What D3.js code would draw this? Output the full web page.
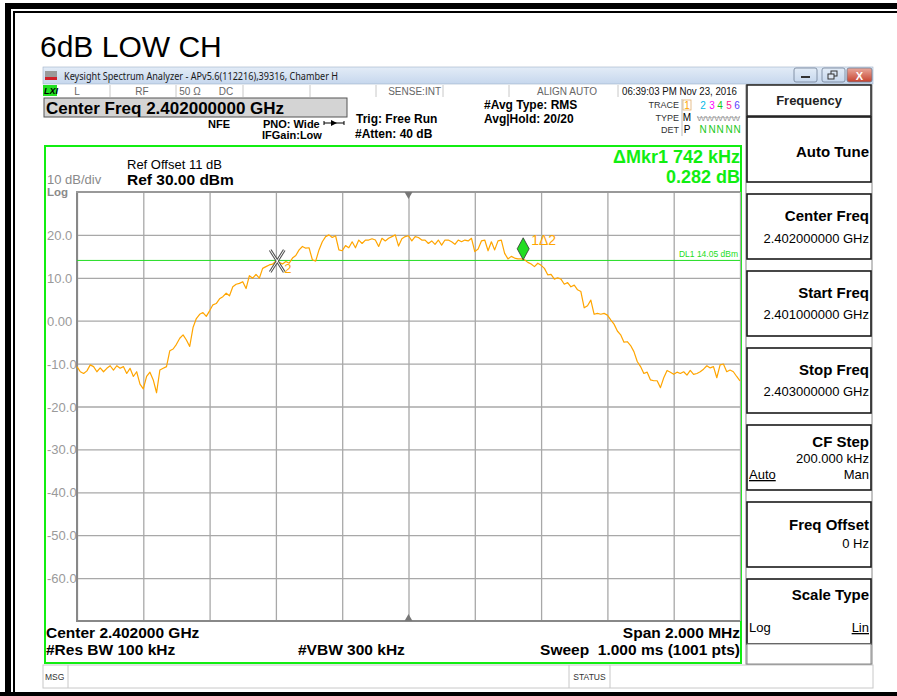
<!DOCTYPE html>
<html>
<head>
<meta charset="utf-8">
<script src="https://cdn.jsdelivr.net/npm/d3@7"></script>
<style>
  body { margin: 0; background: #fff; }
  svg { display: block; font-family: "Liberation Sans", Arial, sans-serif; }
</style>
</head>
<body>
<div id="chart"></div>
<script>
// sweep settings (MHz)
const startFreq = 2401;
const stopFreq = 2403;
const sampleStep = 0.01;   // one sample every 10 kHz

// trace 1 levels in dBm, left to right
const traceLevels = [
  -10.7, -11.9, -12.3, -11.7, -10.3, -10.7, -11.9, -11.0, -11.9, -11.1,
  -10.5, -11.5, -10.5, -11.1, -10.7, -12.3, -11.1, -13.0, -11.9, -14.8,
  -15.9, -13.0, -12.0, -13.8, -16.8, -11.5, -11.1, -10.7, -7.0, -6.6,
  -5.5, -4.1, -3.3, -4.5, -6.0, -1.6, 0.5, 1.5, 1.9, 1.0,
  2.3, 3.7, 4.0, 5.1, 5.6, 6.4, 5.8, 7.9, 8.5, 8.7,
  9.1, 7.5, 10.5, 9.9, 10.8, 9.9, 12.2, 12.6, 13.0, 13.2,
  13.9, 13.6, 13.2, 13.8, 13.4, 14.6, 15.2, 16.5, 17.3, 16.9,
  17.0, 14.2, 13.9, 16.5, 18.4, 19.6, 20.0, 19.4, 19.8, 16.5,
  16.3, 17.5, 17.0, 18.4, 17.0, 18.8, 18.0, 18.8, 18.8, 19.1,
  18.8, 17.3, 19.2, 18.6, 19.2, 19.6, 20.0, 17.4, 19.1, 19.6,
  19.8, 18.6, 19.6, 19.4, 18.8, 18.8, 18.0, 18.6, 17.8, 18.8,
  17.6, 18.8, 18.8, 18.4, 17.8, 18.8, 18.4, 18.8, 18.6, 19.2,
  16.1, 16.7, 18.6, 18.8, 16.3, 18.4, 16.5, 18.6, 18.8, 15.7,
  14.4, 15.0, 14.6, 14.4, 14.4, 14.2, 13.6, 13.2, 12.6, 13.4,
  12.9, 12.2, 10.7, 10.8, 9.7, 10.0, 9.7, 8.5, 8.9, 7.9,
  8.3, 7.2, 6.8, 3.0, 3.5, 4.8, 1.5, 1.7, 1.5, 1.7,
  1.3, 0.2, -0.8, -2.4, -3.3, -5.0, -4.9, -5.8, -7.2, -9.5,
  -10.7, -12.3, -12.0, -13.8, -14.0, -14.0, -15.6, -13.3, -11.6, -12.0,
  -12.5, -12.0, -12.3, -11.9, -12.7, -11.6, -12.5, -12.3, -11.9, -11.3,
  -10.5, -11.0, -10.7, -13.3, -10.3, -10.1, -11.9, -11.5, -11.9, -13.0,
  -14.0
];

const refLevel = 30;
const bottomLevel = -70;
const yTicks = [20, 10, 0, -10, -20, -30, -40, -50, -60];
const yTickLabels = ["20.0", "10.0", "0.00", "-10.0", "-20.0", "-30.0", "-40.0", "-50.0", "-60.0"];
const gridFreqs = [2401, 2401.2, 2401.4, 2401.6, 2401.8, 2402, 2402.2, 2402.4, 2402.6, 2402.8, 2403];
const displayLine = 14.05;

// markers: 2 is the reference, 1 is the delta marker
const markerLabels = ["2", "1\u03942"];
const markerFreqs = [2401.604, 2402.346];
const markerLevels = [13.9, 14.2];

// softkey panel
const softkeyTitles = ["Auto Tune", "Center Freq", "Start Freq", "Stop Freq", "CF Step", "Freq Offset", "Scale Type"];
const softkeyValues = ["", "2.402000000 GHz", "2.401000000 GHz", "2.403000000 GHz", "200.000 kHz", "0 Hz", ""];

const W = 897, H = 696;
const svg = d3.select("#chart").append("svg")
  .attr("width", W)
  .attr("height", H);

// outer document frame
svg.append("rect").attr("x", 5).attr("y", 3).attr("width", W - 5).attr("height", 6).attr("fill", "#000");
svg.append("rect").attr("x", 5).attr("y", 3).attr("width", 6).attr("height", H - 3).attr("fill", "#000");
svg.append("rect").attr("x", 13).attr("y", 11).attr("width", W - 13).attr("height", 2).attr("fill", "#000");
svg.append("rect").attr("x", 13).attr("y", 11).attr("width", 2).attr("height", H - 11).attr("fill", "#000");
svg.append("rect").attr("x", 0).attr("y", 692).attr("width", W).attr("height", 4).attr("fill", "#000");

svg.append("text")
  .attr("x", 40).attr("y", 57)
  .style("font-size", "30px")
  .text("6dB LOW CH");

// window title bar
const defs = svg.append("defs");
const grad = defs.append("linearGradient").attr("id", "bar").attr("x1", 0).attr("y1", 0).attr("x2", 0).attr("y2", 1);
grad.append("stop").attr("offset", "0%").attr("stop-color", "#e3ecf7");
grad.append("stop").attr("offset", "100%").attr("stop-color", "#c6d7ed");
const redGrad = defs.append("linearGradient").attr("id", "red").attr("x1", 0).attr("y1", 0).attr("x2", 0).attr("y2", 1);
redGrad.append("stop").attr("offset", "0%").attr("stop-color", "#e9a99c");
redGrad.append("stop").attr("offset", "100%").attr("stop-color", "#c7432f");

svg.append("rect").attr("x", 43).attr("y", 67).attr("width", 830).attr("height", 17)
  .attr("fill", "url(#bar)").attr("stroke", "#9fb1c8").attr("stroke-width", 0.6);
svg.append("rect").attr("x", 45).attr("y", 71).attr("width", 12).attr("height", 6).attr("fill", "#9a9a9a");
svg.append("rect").attr("x", 45).attr("y", 77).attr("width", 12).attr("height", 3).attr("fill", "#d0202a");
svg.append("text")
  .attr("x", 64).attr("y", 80)
  .attr("textLength", 274).attr("lengthAdjust", "spacingAndGlyphs")
  .style("font-family", "'Noto Sans', 'DejaVu Sans', sans-serif")
  .style("font-size", "11px")
  .attr("fill", "#1a1a1a")
  .text("Keysight Spectrum Analyzer - APv5.6(112216),39316, Chamber H");

// window buttons
[[794, "url(#bar)"], [822, "url(#bar)"], [847, "url(#red)"]].forEach(([bx, f], i) => {
  svg.append("rect").attr("x", bx).attr("y", 68).attr("width", i === 2 ? 25 : 23).attr("height", 14)
    .attr("rx", 2).attr("fill", f).attr("stroke", "#6f7f95").attr("stroke-width", 0.8);
});
svg.append("rect").attr("x", 801).attr("y", 76).attr("width", 9).attr("height", 2).attr("fill", "#333");
svg.append("rect").attr("x", 831).attr("y", 71).attr("width", 6).attr("height", 5).attr("fill", "none").attr("stroke", "#333").attr("stroke-width", 1);
svg.append("rect").attr("x", 828).attr("y", 74).attr("width", 6).attr("height", 5).attr("fill", "#dde6f2").attr("stroke", "#333").attr("stroke-width", 1);
svg.append("text").attr("x", 859.5).attr("y", 79.5).attr("text-anchor", "middle")
  .style("font-size", "11px").style("font-weight", "bold").attr("fill", "#fff").text("X");

// status row
svg.append("rect").attr("x", 43).attr("y", 85).attr("width", 14).attr("height", 11).attr("fill", "#22e022");
svg.append("text").attr("x", 44).attr("y", 94).style("font-size", "9px").style("font-weight", "bold")
  .style("font-style", "italic").text("LXI");
[110, 176, 243, 310, 376, 443, 509, 618].forEach(dx => {
  svg.append("line").attr("x1", dx).attr("x2", dx).attr("y1", 85).attr("y2", 97)
    .attr("stroke", "#c8c8c8");
});
const statusItems = [["L", 77, "middle"], ["RF", 142, "middle"], ["50 \u03A9", 190, "middle"], ["DC", 226, "middle"],
  ["SENSE:INT", 441, "end"], ["ALIGN AUTO", 567, "middle"]];
statusItems.forEach(([t, sx, anchor]) => {
  svg.append("text").attr("x", sx).attr("y", 95).attr("text-anchor", anchor)
    .style("font-size", "10px").attr("fill", "#666").text(t);
});
svg.append("text").attr("x", 622).attr("y", 95).attr("textLength", 115).attr("lengthAdjust", "spacingAndGlyphs")
  .style("font-size", "10px").attr("fill", "#111").text("06:39:03 PM Nov 23, 2016");

// center freq banner
svg.append("rect").attr("x", 44).attr("y", 98).attr("width", 303).attr("height", 19)
  .attr("fill", "#d4d4d4").attr("stroke", "#555").attr("stroke-width", 1);
svg.append("text").attr("x", 46).attr("y", 113.5)
  .style("font-size", "17px").style("font-weight", "bold")
  .text("Center Freq 2.402000000 GHz");

// settings text
const settings = [
  ["NFE", 208, 128, 11], ["PNO: Wide", 263, 128, 11], ["IFGain:Low", 262, 139, 11],
  ["Trig: Free Run", 356, 123, 12], ["#Atten: 40 dB", 355, 138, 12],
  ["#Avg Type: RMS", 484, 109, 12], ["Avg|Hold: 20/20", 484, 123, 12]
];
settings.forEach(([t, sx, sy, fs]) => {
  svg.append("text").attr("x", sx).attr("y", sy)
    .style("font-size", fs + "px").style("font-weight", "bold")
    .text(t);
});
// trigger arrow
svg.append("line").attr("x1", 324).attr("x2", 344).attr("y1", 123).attr("y2", 123).attr("stroke", "#000");
svg.append("path").attr("d", "M331,120 L337,123 L331,126 Z").attr("fill", "#000");
svg.append("line").attr("x1", 324).attr("x2", 324).attr("y1", 121).attr("y2", 125).attr("stroke", "#000");
svg.append("line").attr("x1", 344).attr("x2", 344).attr("y1", 121).attr("y2", 125).attr("stroke", "#000");

// trace table
const traceRows = ["TRACE", "TYPE", "DET"];
traceRows.forEach((t, i) => {
  svg.append("text").attr("x", 679).attr("y", 108 + i * 12.5).attr("text-anchor", "end")
    .style("font-size", "9px").attr("fill", "#333").text(t);
});
svg.append("line").attr("x1", 682).attr("x2", 682).attr("y1", 99).attr("y2", 136).attr("stroke", "#bbb");
const traceNums = ["1", "2", "3", "4", "5", "6"];
const traceColors = ["#ffa500", "#00b8e8", "#ff00ff", "#18c818", "#ff1493", "#5a3cff"];
const traceX = [687, 703, 712, 720, 729, 737];
svg.append("rect").attr("x", 683).attr("y", 100).attr("width", 8).attr("height", 10)
  .attr("fill", "none").attr("stroke", "#e0b070").attr("stroke-width", 0.8);
traceNums.forEach((t, i) => {
  svg.append("text").attr("x", traceX[i]).attr("y", 108.5).attr("text-anchor", "middle")
    .style("font-size", "10px").attr("fill", traceColors[i]).text(t);
  if (i > 0) {
    svg.append("text").attr("x", traceX[i]).attr("y", 133).attr("text-anchor", "middle")
      .style("font-size", "10px").attr("fill", "#18c818").text("N");
  }
});
svg.append("text").attr("x", 687).attr("y", 121).attr("text-anchor", "middle")
  .style("font-size", "10px").text("M");
svg.append("text").attr("x", 697).attr("y", 120.5).attr("textLength", 43).attr("lengthAdjust", "spacingAndGlyphs")
  .style("font-size", "8px").attr("fill", "#999").text("WWWWW");
svg.append("line").attr("x1", 697).attr("x2", 740).attr("y1", 117.5).attr("y2", 117.5).attr("stroke", "#aaa").attr("stroke-width", 0.6);
svg.append("text").attr("x", 687).attr("y", 133).attr("text-anchor", "middle")
  .style("font-size", "10px").text("P");

// plot area scales
const x = d3.scaleLinear().domain([startFreq, stopFreq]).range([77, 740]);
const y = d3.scaleLinear().domain([bottomLevel, refLevel]).range([621, 192]);
const plotW = 740 - 77, plotH = 621 - 192;

// green frame
svg.append("rect").attr("x", 45).attr("y", 146).attr("width", 696).attr("height", 517)
  .attr("fill", "none").attr("stroke", "#11ee11").attr("stroke-width", 2);

// grid from the axes
const xGrid = svg.append("g")
  .attr("transform", `translate(0,${y(bottomLevel)})`)
  .call(d3.axisBottom(x).tickValues(gridFreqs).tickSize(-plotH).tickFormat(""));
xGrid.select(".domain").remove();
xGrid.selectAll("line").attr("stroke", "#a8a8a8").attr("stroke-width", 1.3);

const yAxis = svg.append("g")
  .attr("transform", `translate(${x(startFreq)},0)`)
  .call(d3.axisLeft(y).tickValues(yTicks).tickSize(-plotW).tickFormat((d, i) => yTickLabels[i]));
yAxis.select(".domain").remove();
yAxis.selectAll("line").attr("stroke", "#a8a8a8").attr("stroke-width", 1.3);
yAxis.selectAll("text")
  .attr("x", 47 - 77).attr("dy", "0.35em")
  .attr("text-anchor", "start")
  .attr("fill", "#9a9a9a")
  .style("font-family", "'Liberation Sans', Arial, sans-serif")
  .style("font-size", "13px");

// grid border
svg.append("line").attr("x1", 77).attr("x2", 77).attr("y1", 191).attr("y2", 622).attr("stroke", "#888").attr("stroke-width", 2);
svg.append("line").attr("x1", 76).attr("x2", 740).attr("y1", y(refLevel)).attr("y2", y(refLevel)).attr("stroke", "#999").attr("stroke-width", 2);
svg.append("line").attr("x1", 76).attr("x2", 740).attr("y1", y(bottomLevel)).attr("y2", y(bottomLevel)).attr("stroke", "#888").attr("stroke-width", 2);

// center triangles
const cx = x((startFreq + stopFreq) / 2);
svg.append("path").attr("d", `M${cx - 4},${y(refLevel)} L${cx + 4},${y(refLevel)} L${cx},${y(refLevel) + 7} Z`).attr("fill", "#777");
svg.append("path").attr("d", `M${cx - 4},${y(bottomLevel)} L${cx + 4},${y(bottomLevel)} L${cx},${y(bottomLevel) - 7} Z`).attr("fill", "#777");

// display line
svg.append("line")
  .attr("x1", 77).attr("x2", 740)
  .attr("y1", y(displayLine)).attr("y2", y(displayLine))
  .attr("stroke", "#22dd22").attr("stroke-width", 1);
svg.append("text").attr("x", 738).attr("y", y(displayLine) - 3).attr("text-anchor", "end")
  .style("font-size", "8.5px").attr("fill", "#22dd22")
  .text(`DL1 ${displayLine.toFixed(2)} dBm`);

// trace
const line = d3.line()
  .x((d, i) => x(startFreq + i * sampleStep))
  .y(d => y(d));
svg.append("path")
  .datum(traceLevels)
  .attr("d", line)
  .attr("fill", "none")
  .attr("stroke", "#ffa500")
  .attr("stroke-width", 1.2)
  .attr("stroke-linejoin", "round");

// marker 2 (reference): outlined X
const m2x = x(markerFreqs[0]), m2y = y(markerLevels[0]);
const xPath = `M${m2x - 7},${m2y - 11} L${m2x + 7},${m2y + 11} M${m2x + 7},${m2y - 11} L${m2x - 7},${m2y + 11}`;
svg.append("path").attr("d", xPath).attr("stroke", "#555").attr("stroke-width", 3).attr("fill", "none");
svg.append("path").attr("d", xPath).attr("stroke", "#fff").attr("stroke-width", 1).attr("fill", "none");
svg.append("text").attr("x", m2x + 7).attr("y", m2y + 12)
  .style("font-size", "13px").attr("fill", "#ffa500").text(markerLabels[0]);

// marker 1 (delta): green diamond sitting on the trace
const m1x = x(markerFreqs[1]), m1y = y(markerLevels[1]);
svg.append("path")
  .attr("d", `M${m1x},${m1y} L${m1x - 6},${m1y - 11} L${m1x},${m1y - 22} L${m1x + 6},${m1y - 11} Z`)
  .attr("fill", "#22dd22").attr("stroke", "#333").attr("stroke-width", 0.8);
svg.append("text").attr("x", m1x + 8).attr("y", m1y - 15)
  .style("font-size", "14px").attr("fill", "#ffa500").text(markerLabels[1]);

// marker readout
const deltaKHz = Math.round((markerFreqs[1] - markerFreqs[0]) * 1000);
svg.append("text").attr("x", 740).attr("y", 162.5).attr("text-anchor", "end")
  .style("font-size", "18px").style("font-weight", "bold").attr("fill", "#11ee11")
  .text(`\u0394Mkr1 ${deltaKHz} kHz`);
svg.append("text").attr("x", 740).attr("y", 183).attr("text-anchor", "end")
  .style("font-size", "18px").style("font-weight", "bold").attr("fill", "#11ee11")
  .text("0.282 dB");

// reference text
svg.append("text").attr("x", 127).attr("y", 169).style("font-size", "13px").text("Ref Offset 11 dB");
svg.append("text").attr("x", 127).attr("y", 185).style("font-size", "15.5px").style("font-weight", "bold")
  .text(`Ref ${refLevel.toFixed(2)} dBm`);
svg.append("text").attr("x", 47).attr("y", 183.5).style("font-size", "13px").attr("fill", "#8a8a8a").text("10 dB/div");
svg.append("text").attr("x", 47).attr("y", 196).style("font-size", "11.5px").style("font-weight", "bold")
  .attr("fill", "#8a8a8a").text("Log");

// bottom annotations
const bottomText = [
  ["Center 2.402000 GHz", 46, 638, "start"], ["#Res BW 100 kHz", 46, 655, "start"],
  ["#VBW 300 kHz", 298, 655, "start"], ["Span 2.000 MHz", 740, 638, "end"],
  ["Sweep  1.000 ms (1001 pts)", 740, 655, "end"]
];
bottomText.forEach(([t, bx, by, anchor]) => {
  svg.append("text").attr("x", bx).attr("y", by).attr("text-anchor", anchor)
    .style("font-size", "15.5px").style("font-weight", "bold").style("white-space", "pre")
    .text(t);
});

// message bar
svg.append("rect").attr("x", 43).attr("y", 665).attr("width", 830).attr("height", 23)
  .attr("fill", "#fff").attr("stroke", "#c8c8c8").attr("stroke-width", 1);
[68, 569, 610].forEach(dx => {
  svg.append("line").attr("x1", dx).attr("x2", dx).attr("y1", 665).attr("y2", 688).attr("stroke", "#c8c8c8");
});
svg.append("text").attr("x", 45).attr("y", 680).style("font-size", "8.5px").attr("fill", "#333").text("MSG");
svg.append("text").attr("x", 589.5).attr("y", 680).attr("text-anchor", "middle").style("font-size", "8.5px")
  .attr("fill", "#333").text("STATUS");

// softkey panel
svg.append("rect").attr("x", 746).attr("y", 85).attr("width", 126).attr("height", 579)
  .attr("fill", "#fff").attr("stroke", "#888").attr("stroke-width", 1);
svg.append("rect").attr("x", 747).attr("y", 85).attr("width", 124).attr("height", 31)
  .attr("fill", "#fff").attr("stroke", "#222").attr("stroke-width", 1.5);
svg.append("text").attr("x", 809).attr("y", 105).attr("text-anchor", "middle")
  .style("font-size", "13px").style("font-weight", "bold").attr("fill", "#222").text("Frequency");

const keyTop = i => 117 + i * 77;
const titleDy = [40, 27, 27, 27, 22, 28, 21];
const valueDy = [0, 49, 48, 48, 38, 46, 0];
softkeyTitles.forEach((t, i) => {
  const top = keyTop(i);
  svg.append("rect").attr("x", 747).attr("y", top).attr("width", 124).attr("height", 65)
    .attr("fill", "#fff").attr("stroke", "#1a1a1a").attr("stroke-width", 1.6);
  svg.append("text").attr("x", 869).attr("y", top + titleDy[i]).attr("text-anchor", "end")
    .style("font-size", "15px").style("font-weight", "bold").text(t);
  if (softkeyValues[i]) {
    svg.append("text").attr("x", 869).attr("y", top + valueDy[i]).attr("text-anchor", "end")
      .style("font-size", "13px").text(softkeyValues[i]);
  }
});
// CF Step Auto/Man
svg.append("text").attr("x", 749).attr("y", keyTop(4) + 54).style("font-size", "13px")
  .style("text-decoration", "underline").text("Auto");
svg.append("text").attr("x", 869).attr("y", keyTop(4) + 54).attr("text-anchor", "end").style("font-size", "13px").text("Man");
// Scale Type Log/Lin
svg.append("text").attr("x", 749).attr("y", keyTop(6) + 53).style("font-size", "13px").text("Log");
svg.append("text").attr("x", 869).attr("y", keyTop(6) + 53).attr("text-anchor", "end").style("font-size", "13px")
  .style("text-decoration", "underline").text("Lin");
svg.append("rect").attr("x", 747).attr("y", 644).attr("width", 124).attr("height", 20)
  .attr("fill", "#fff").attr("stroke", "#888").attr("stroke-width", 1);
</script>
</body>
</html>
